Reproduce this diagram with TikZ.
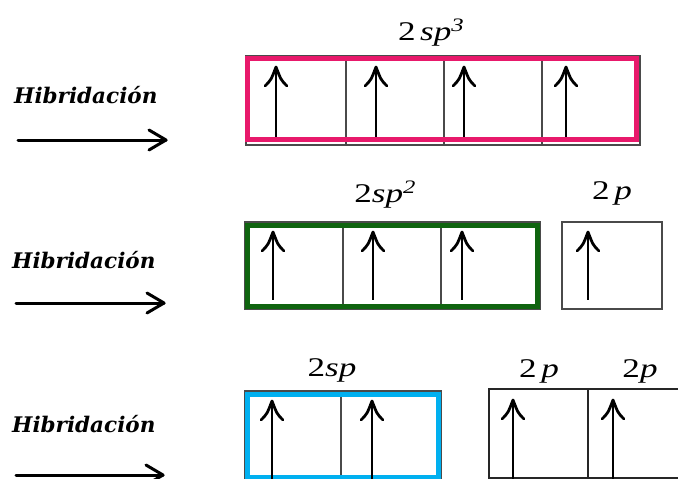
\documentclass[tikz,border=0pt]{standalone}
\usepackage{fontspec}
\setmainfont{Liberation Serif}
\newfontfamily\hibfont{DejaVu Serif}
\newfontfamily\orbfont{Liberation Serif}[FakeStretch=1.3]
\newcommand{\orbsup}[1]{\raisebox{9pt}{\fontsize{19}{19}\selectfont\textit{#1}}}
\definecolor{pinkc}{HTML}{E8196B}
\definecolor{greenc}{HTML}{0F640F}
\definecolor{cyanc}{HTML}{00B0F0}
\definecolor{cellc}{HTML}{4A4A4A}
\begin{document}
\begin{tikzpicture}[x=1pt,y=-1pt,
  hib/.style={font=\hibfont\bfseries\itshape\fontsize{21.5}{21.5}\selectfont, anchor=base west, inner sep=0pt},
  orb/.style={font=\orbfont\fontsize{27}{27}\selectfont, anchor=base, inner sep=0pt},
  cell/.style={draw=cellc, line width=1.3pt},
  darkcell/.style={draw=black!85, line width=1.6pt},
  hyb/.style={line width=5pt},
  reaction/.style={line width=3pt, line cap=round},
  electron/.pic={
    \draw[line width=2.8pt] (0,1) -- (0,#1);
    \draw[line width=2.8pt, line cap=round, line join=round]
      (-11,19) .. controls (-5,13) .. (0,0) .. controls (5,13) .. (11,19);
  }]
\useasboundingbox (0,0) rectangle (678,479);
\fill[white] (0,0) rectangle (678,479);

% ---------- row 1 : sp3 ----------
\node[hib] (h1) at (14,103) {Hibridación};
\coordinate (a1s) at (18,140);
\coordinate (a1e) at (166,140);
\draw[reaction] (a1s) -- (a1e);
\draw[reaction, line join=round] ([shift={(-17,-10)}]a1e) -- (a1e) -- ([shift={(-17,10)}]a1e);

\draw[cell] (246,56) rectangle (640,145);
\foreach \x in {346,444,542} \draw[cell] (\x,56) -- (\x,145);
\draw[pinkc, hyb] (247.5,58.5) rectangle (636.5,139.5);
\foreach \x in {276,376,464,566} \pic at (\x,67) {electron=70};
\node[orb] (l1) at (431,40) {2\,\textit{sp}\orbsup{3}};

% ---------- row 2 : sp2 ----------
\node[hib] (h2) at (12,268) {Hibridación};
\coordinate (a2s) at (16,303);
\coordinate (a2e) at (164,303);
\draw[reaction] (a2s) -- (a2e);
\draw[reaction, line join=round] ([shift={(-17,-10)}]a2e) -- (a2e) -- ([shift={(-17,10)}]a2e);

\draw[cell] (245,222) rectangle (540,309);
\foreach \x in {343,441} \draw[cell] (\x,222) -- (\x,309);
\draw[greenc, hyb] (247.5,225.5) rectangle (537.5,306.5);
\foreach \x in {273,373,462} \pic at (\x,232) {electron=68};
\node[orb] (l2) at (385,202) {2\textit{sp}\orbsup{2}};

\draw[cell] (562,222) rectangle (662,309);
\pic at (588,232) {electron=68};
\node[orb] (l2p) at (612,199) {2\,\textit{p}};

% ---------- row 3 : sp ----------
\node[hib] (h3) at (12,432) {Hibridación};
\coordinate (a3s) at (16,475);
\coordinate (a3e) at (163,475);
\draw[reaction] (a3s) -- (a3e);
\draw[reaction, line join=round] ([shift={(-17,-10)}]a3e) -- (a3e) -- ([shift={(-17,10)}]a3e);

\draw[cell] (245,391) rectangle (441,500);
\draw[cell] (341,391) -- (341,500);
\draw[cyanc, hyb] (247.5,394.5) rectangle (438.5,477);
\foreach \x in {272,372} \pic at (\x,401) {electron=80};
\node[orb] (l3) at (332,376) {2\textit{sp}};

\draw[darkcell] (489,389) rectangle (700,478);
\draw[darkcell] (588,389) -- (588,479);
\foreach \x in {513,613} \pic at (\x,400) {electron=80};
\node[orb] (l3a) at (539,377) {2\,\textit{p}};
\node[orb] (l3b) at (640,377) {2\textit{p}};
\end{tikzpicture}
\end{document}
